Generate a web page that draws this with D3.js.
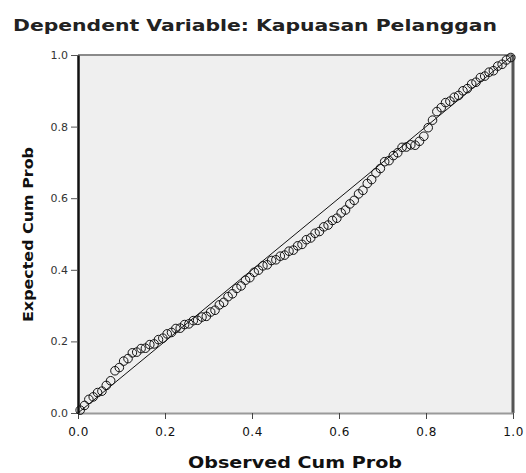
<!DOCTYPE html>
<html>
<head>
<meta charset="utf-8">
<script src="https://cdn.jsdelivr.net/npm/d3@7"></script>
<style>
  body { margin: 0; background: #fff; }
  text { font-family: "DejaVu Sans", Arial, sans-serif; }
</style>
</head>
<body>
<div id="chart"></div>
<script>
const width = 526;
const height = 473;

const title = "Dependent Variable: Kapuasan Pelanggan";
const xTitle = "Observed Cum Prob";
const yTitle = "Expected Cum Prob";
const tickValues = [0, 0.2, 0.4, 0.6, 0.8, 1.0];

// observed cumulative probability (x)
const observed = [
  0.005, 0.015, 0.025, 0.035, 0.045, 0.055, 0.065, 0.075, 0.085, 0.095,
  0.105, 0.115, 0.125, 0.135, 0.145, 0.155, 0.165, 0.175, 0.185, 0.195,
  0.205, 0.215, 0.225, 0.235, 0.245, 0.255, 0.265, 0.275, 0.285, 0.295,
  0.305, 0.315, 0.325, 0.335, 0.345, 0.355, 0.365, 0.375, 0.385, 0.395,
  0.405, 0.415, 0.425, 0.435, 0.445, 0.455, 0.465, 0.475, 0.485, 0.495,
  0.505, 0.515, 0.525, 0.535, 0.545, 0.555, 0.565, 0.575, 0.585, 0.595,
  0.605, 0.615, 0.625, 0.635, 0.645, 0.655, 0.665, 0.675, 0.685, 0.695,
  0.705, 0.715, 0.725, 0.735, 0.745, 0.755, 0.765, 0.775, 0.785, 0.795,
  0.805, 0.815, 0.825, 0.835, 0.845, 0.855, 0.865, 0.875, 0.885, 0.895,
  0.905, 0.915, 0.925, 0.935, 0.945, 0.955, 0.965, 0.975, 0.985, 0.995
];

// expected cumulative probability (y)
const expected = [
  0.008, 0.021, 0.038, 0.045, 0.057, 0.061, 0.077, 0.090, 0.118, 0.127,
  0.145, 0.152, 0.168, 0.170, 0.180, 0.181, 0.191, 0.193, 0.205, 0.209,
  0.221, 0.225, 0.236, 0.237, 0.247, 0.249, 0.258, 0.259, 0.268, 0.270,
  0.282, 0.287, 0.302, 0.309, 0.325, 0.333, 0.348, 0.355, 0.371, 0.378,
  0.393, 0.399, 0.411, 0.414, 0.426, 0.428, 0.438, 0.441, 0.452, 0.455,
  0.467, 0.471, 0.484, 0.489, 0.502, 0.507, 0.520, 0.525, 0.538, 0.544,
  0.559, 0.567, 0.584, 0.594, 0.612, 0.622, 0.641, 0.652, 0.671, 0.683,
  0.702, 0.705, 0.719, 0.727, 0.742, 0.743, 0.749, 0.748, 0.759, 0.773,
  0.797, 0.818, 0.842, 0.853, 0.867, 0.871, 0.882, 0.887, 0.900, 0.906,
  0.919, 0.924, 0.937, 0.941, 0.952, 0.956, 0.969, 0.974, 0.986, 0.993
];

const margin = { top: 55, right: 13, bottom: 60, left: 78 };
const innerW = width - margin.left - margin.right;
const innerH = height - margin.top - margin.bottom;

const svg = d3.select("#chart").append("svg")
    .attr("width", width)
    .attr("height", height);

const x = d3.scaleLinear().domain([0, 1]).range([margin.left, margin.left + innerW]);
const y = d3.scaleLinear().domain([0, 1]).range([margin.top + innerH, margin.top]);

// plot background
svg.append("rect")
    .attr("x", x(0)).attr("y", y(1))
    .attr("width", innerW).attr("height", innerH)
    .style("fill", "#efefef");

// frame
svg.append("line")
    .attr("x1", x(0)).attr("x2", x(1)).attr("y1", y(1)).attr("y2", y(1))
    .style("stroke", "#8a8a8a").style("stroke-width", 2);
svg.append("line")
    .attr("x1", x(1)).attr("x2", x(1)).attr("y1", y(1)).attr("y2", y(0))
    .style("stroke", "#555").style("stroke-width", 3);

// axes
const xAxis = svg.append("g")
    .attr("transform", `translate(0,${y(0)})`)
    .call(d3.axisBottom(x).tickValues(tickValues).tickFormat(d3.format(".1f")).tickSize(6).tickSizeOuter(0));
xAxis.select(".domain").style("stroke", "#9a9a9a").style("stroke-width", 2);
xAxis.selectAll(".tick line").style("stroke", "#444");
xAxis.selectAll(".tick text")
    .attr("dy", "1.2em")
    .style("font-size", "12px").style("letter-spacing", "0.5px").style("fill", "#111");

const yAxis = svg.append("g")
    .attr("transform", `translate(${x(0)},0)`)
    .call(d3.axisLeft(y).tickValues(tickValues).tickFormat(d3.format(".1f")).tickSize(7).tickSizeOuter(0));
yAxis.select(".domain").style("stroke", "#111").style("stroke-width", 2.5);
yAxis.selectAll(".tick line").style("stroke", "#555");
yAxis.selectAll(".tick text")
    .attr("x", -10)
    .style("font-size", "11px").style("fill", "#333");

// reference diagonal
svg.append("line")
    .attr("x1", x(0)).attr("y1", y(0))
    .attr("x2", x(1)).attr("y2", y(1))
    .style("stroke", "#111").style("stroke-width", 1);

// points
const points = observed.map((d, i) => ({ obs: d, exp: expected[i] }));
svg.append("g").selectAll("circle")
    .data(points)
    .join("circle")
    .attr("cx", d => x(d.obs))
    .attr("cy", d => y(d.exp))
    .attr("r", 4.3)
    .style("fill", "none")
    .style("stroke", "#111")
    .style("stroke-width", 1);

// titles
svg.append("text")
    .attr("x", 13).attr("y", 31)
    .attr("textLength", 484).attr("lengthAdjust", "spacingAndGlyphs")
    .style("font-size", "16px").style("font-weight", "bold").style("fill", "#222")
    .text(title);

svg.append("text")
    .attr("x", 188).attr("y", 468)
    .attr("textLength", 214).attr("lengthAdjust", "spacingAndGlyphs")
    .style("font-size", "15px").style("font-weight", "bold").style("fill", "#111")
    .text(xTitle);

svg.append("text")
    .attr("transform", `translate(33,322) rotate(-90)`)
    .attr("textLength", 175).attr("lengthAdjust", "spacingAndGlyphs")
    .style("font-size", "14px").style("font-weight", "bold").style("fill", "#111")
    .text(yTitle);
</script>
</body>
</html>
